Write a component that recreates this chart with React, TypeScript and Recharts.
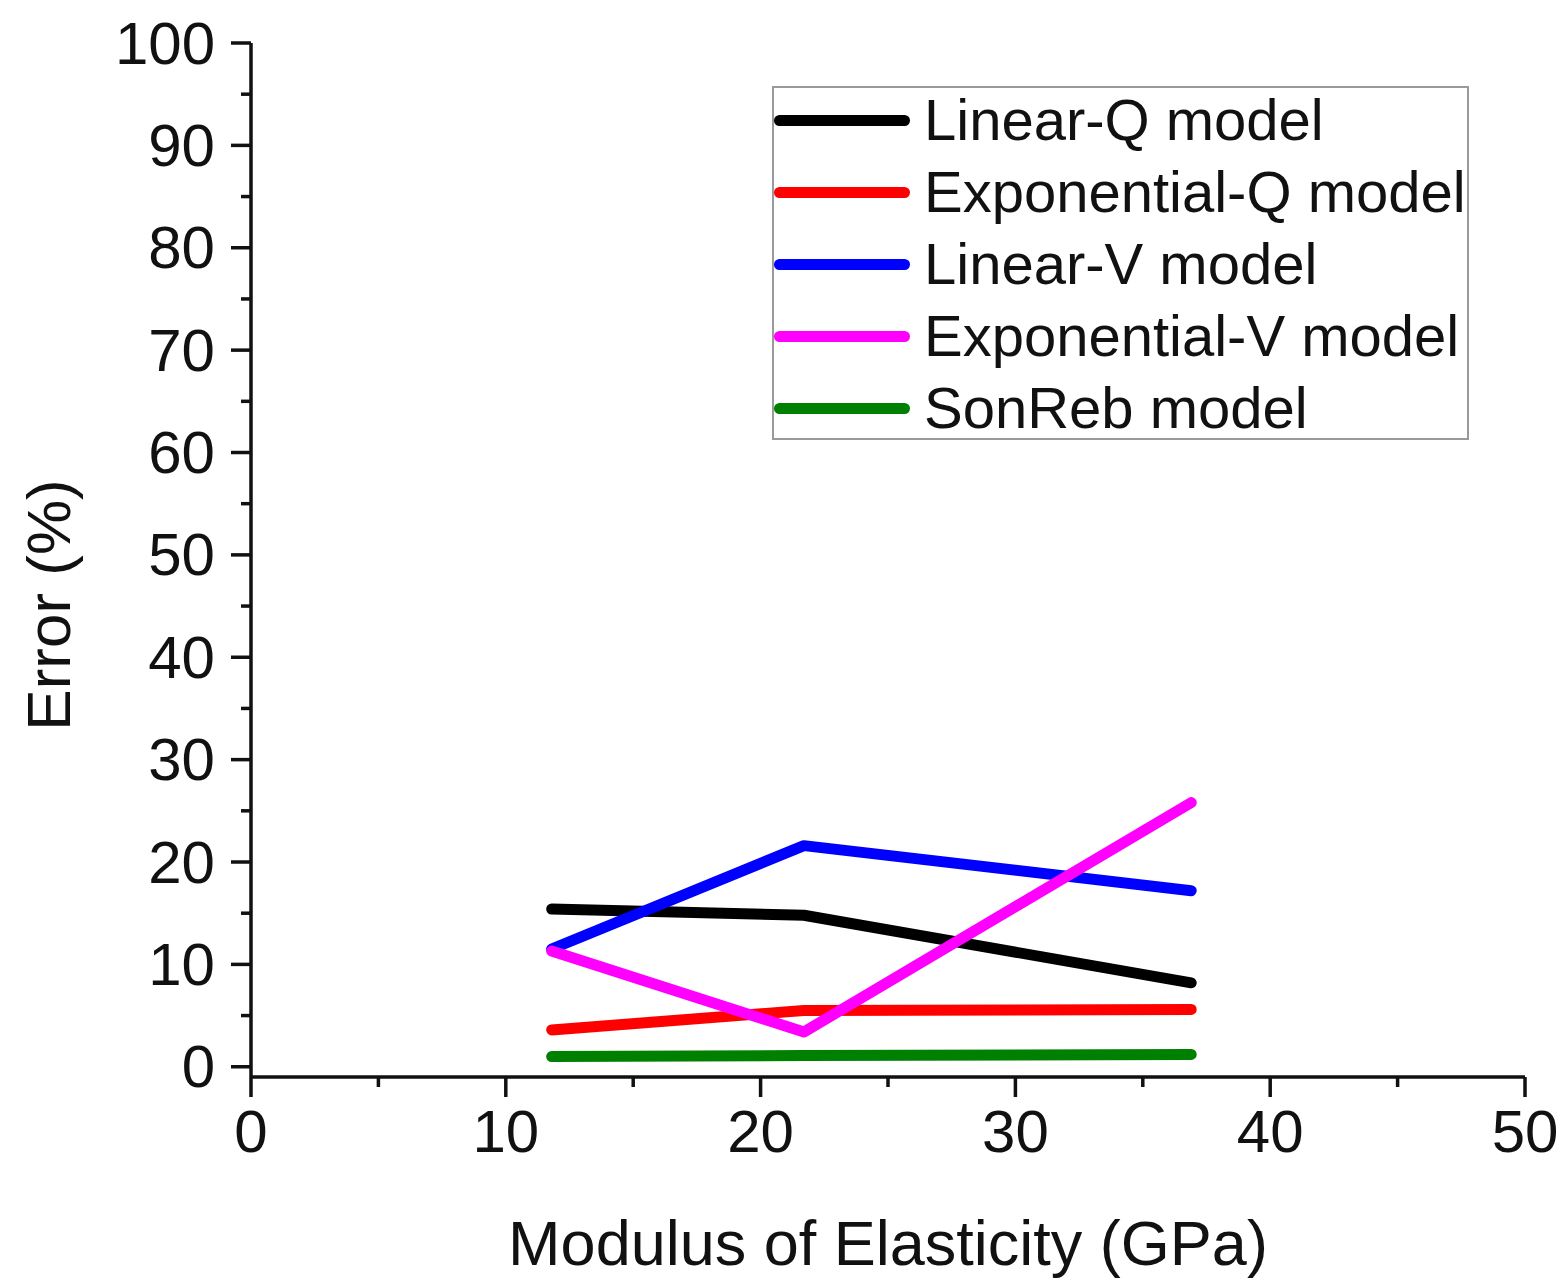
import { Legend, Line, LineChart, XAxis, YAxis } from "recharts"

const modulus = [11.8, 21.7, 36.9]
const linearQ = [15.4, 14.8, 8.2]
const exponentialQ = [3.6, 5.5, 5.6]
const linearV = [11.5, 21.6, 17.2]
const exponentialV = [11.3, 3.4, 25.8]
const sonReb = [1.0, 1.1, 1.2]

const xTicks = [0, 5, 10, 15, 20, 25, 30, 35, 40, 45, 50]
const yTicks = [0, 5, 10, 15, 20, 25, 30, 35, 40, 45, 50, 55, 60, 65, 70, 75, 80, 85, 90, 95, 100]

const series = [
  { key: "linearQ", name: "Linear-Q model", color: "#000000", values: linearQ },
  { key: "exponentialQ", name: "Exponential-Q model", color: "#ff0000", values: exponentialQ },
  { key: "linearV", name: "Linear-V model", color: "#0000ff", values: linearV },
  { key: "exponentialV", name: "Exponential-V model", color: "#ff00ff", values: exponentialV },
  { key: "sonReb", name: "SonReb model", color: "#008000", values: sonReb },
]

const data = modulus.map((m, i) => {
  const row: Record<string, number> = { modulus: m }
  series.forEach((s) => {
    row[s.key] = s.values[i]
  })
  return row
})

const FONT = "'Liberation Sans', Arial, sans-serif"
const INK = "#111111"

function XTick(props: any) {
  const { x, y, payload } = props
  const major = payload.value % 10 === 0
  return (
    <g>
      <line x1={x} x2={x} y1={y} y2={y + (major ? 20 : 10)} stroke={INK} strokeWidth={3.5} />
      {major && (
        <text x={x} y={y + 54} textAnchor="middle" dominantBaseline="central" fontSize={60} fontFamily={FONT} fill={INK}>
          {payload.value}
        </text>
      )}
    </g>
  )
}

function YTick(props: any) {
  const { x, y, payload } = props
  const major = payload.value % 10 === 0
  return (
    <g>
      <line x1={x - (major ? 20 : 10)} x2={x} y1={y} y2={y} stroke={INK} strokeWidth={3.5} />
      {major && (
        <text x={x - 36} y={y} textAnchor="end" dominantBaseline="central" fontSize={60} fontFamily={FONT} fill={INK}>
          {payload.value}
        </text>
      )}
    </g>
  )
}

function LegendBox() {
  return (
    <div
      style={{
        position: "absolute",
        left: 764,
        top: 78,
        width: 697,
        height: 354,
        border: "2px solid #9a9a9a",
        background: "#fff",
        boxSizing: "border-box",
        fontFamily: FONT,
      }}
    >
      {series.map((s, i) => (
        <div key={s.key} style={{ position: "absolute", left: 0, top: 32 + i * 72 - 36, height: 72, display: "flex", alignItems: "center" }}>
          <div style={{ width: 136, height: 11, borderRadius: 6, background: s.color }} />
          <span style={{ marginLeft: 14, fontSize: 58, color: INK, whiteSpace: "nowrap", lineHeight: "72px" }}>{s.name}</span>
        </div>
      ))}
    </div>
  )
}

export default function App() {
  return (
    <div style={{ position: "relative", width: 1550, height: 1274 }}>
      <LineChart width={1550} height={1274} data={data} margin={{ top: 35, right: 33, bottom: 0, left: 0 }}>
        <XAxis
          dataKey="modulus"
          type="number"
          domain={[0, 50]}
          ticks={xTicks}
          interval={0}
          tick={<XTick />}
          tickLine={false}
          tickSize={0}
          tickMargin={0}
          height={205}
          axisLine={{ stroke: INK, strokeWidth: 3.5 }}
          label={{
            content: ({ viewBox }: any) => (
              <text
                x={viewBox.x + viewBox.width / 2}
                y={viewBox.y + 166}
                textAnchor="middle"
                dominantBaseline="central"
                fontSize={63}
                fontFamily={FONT}
                fill={INK}
              >
                Modulus of Elasticity (GPa)
              </text>
            ),
          }}
        />
        <XAxis xAxisId="top" orientation="top" type="number" domain={[0, 50]} height={0} tick={false} tickLine={false} axisLine={{ stroke: INK, strokeWidth: 3.5 }} />
        <YAxis
          type="number"
          domain={[-1, 100]}
          ticks={yTicks}
          interval={0}
          tick={<YTick />}
          tickLine={false}
          tickSize={0}
          tickMargin={0}
          width={243}
          axisLine={{ stroke: INK, strokeWidth: 3.5 }}
          label={{
            content: () => (
              <text
                x={40}
                y={597}
                transform="rotate(-90 40 597)"
                textAnchor="middle"
                dominantBaseline="central"
                fontSize={62}
                fontFamily={FONT}
                fill={INK}
              >
                Error (%)
              </text>
            ),
          }}
        />
        <YAxis yAxisId="right" orientation="right" type="number" domain={[-1, 100]} width={0} tick={false} tickLine={false} axisLine={{ stroke: INK, strokeWidth: 3.5 }} />
        <Legend content={() => <LegendBox />} wrapperStyle={{ position: "absolute", left: 0, top: 0, width: 0, height: 0 }} />
        {series.map((s) => (
          <Line
            key={s.key}
            dataKey={s.key}
            name={s.name}
            stroke={s.color}
            strokeWidth={11}
            strokeLinecap="round"
            strokeLinejoin="round"
            dot={false}
            activeDot={false}
            type="linear"
            isAnimationActive={false}
          />
        ))}
      </LineChart>
    </div>
  )
}
